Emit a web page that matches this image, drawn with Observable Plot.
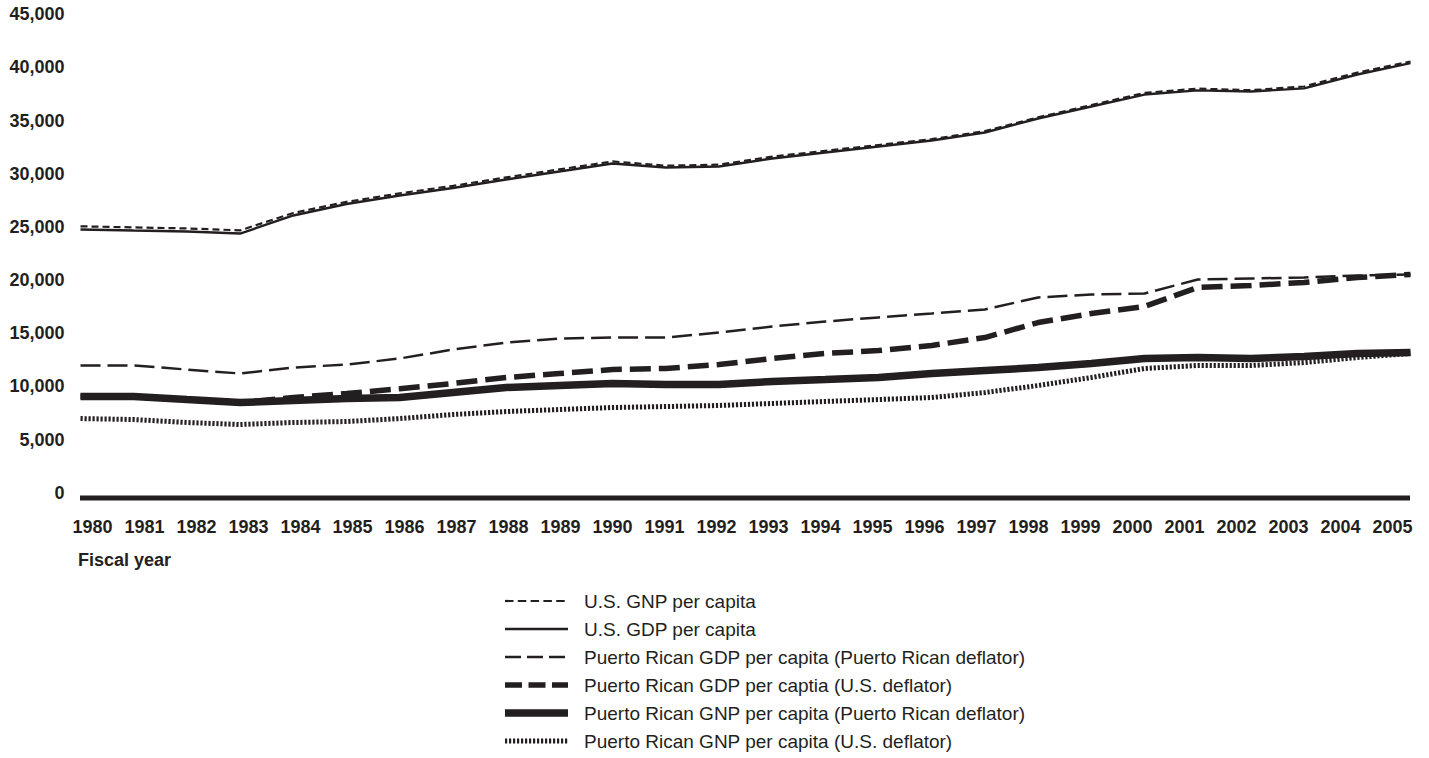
<!DOCTYPE html>
<html>
<head>
<meta charset="utf-8">
<script src="https://cdn.jsdelivr.net/npm/d3@7"></script>
<script src="https://cdn.jsdelivr.net/npm/@observablehq/plot@0.6"></script>
<style>
  html, body { margin: 0; padding: 0; background: #ffffff; }
  #wrap { position: relative; width: 1429px; height: 580px; }
  #wrap > svg { position: absolute; left: 0; top: 0; }
  svg { font-family: "Liberation Sans", Arial, Helvetica, sans-serif; }
</style>
</head>
<body>
<div id="wrap"></div>
<div id="legend"></div>
<script>
const years = [1980,1981,1982,1983,1984,1985,1986,1987,1988,1989,1990,1991,1992,1993,1994,1995,1996,1997,1998,1999,2000,2001,2002,2003,2004,2005];
const usGNP   = [25550,25450,25350,25170,26800,27850,28650,29350,30150,30900,31650,31250,31350,32100,32650,33200,33750,34500,35800,36950,38100,38500,38350,38700,40000,41050];
const usGDP   = [25250,25150,25060,24870,26570,27650,28450,29150,29950,30700,31460,31080,31180,31930,32490,33060,33620,34370,35690,36820,37940,38330,38230,38520,39830,40900];
const prGDPpr = [12460,12460,12080,11710,12270,12550,13120,13960,14620,15000,15090,15090,15560,16130,16600,16980,17350,17730,18860,19140,19230,20550,20640,20740,20920,21020];
const prGDPus = [9550,9550,9260,8980,9450,9830,10270,10770,11330,11710,12080,12180,12550,13120,13590,13870,14340,15090,16500,17350,18010,19800,19980,20270,20740,21020];
const prGNPpr = [9550,9550,9260,8980,9170,9360,9450,9920,10390,10580,10770,10670,10670,10960,11140,11330,11710,11990,12270,12650,13120,13210,13120,13310,13590,13680];
const prGNPus = [7470,7380,7100,6910,7100,7190,7470,7850,8130,8320,8510,8600,8700,8890,9080,9260,9450,9920,10580,11330,12180,12460,12460,12740,13210,13590];
const yTicks  = [0,5000,10000,15000,20000,25000,30000,35000,40000,45000];
const seriesNames = [
  "U.S. GNP per capita",
  "U.S. GDP per capita",
  "Puerto Rican GDP per capita (Puerto Rican deflator)",
  "Puerto Rican GDP per captia (U.S. deflator)",
  "Puerto Rican GNP per capita (Puerto Rican deflator)",
  "Puerto Rican GNP per capita (U.S. deflator)"
];
const xTitle = "Fiscal year";

const INK = "#231f20";
const seriesValues = [usGNP, usGDP, prGDPpr, prGDPus, prGNPpr, prGNPus];
const styles = [
  {w: 2.2, dash: "7,4",     ldash: "8.5,4.3"},
  {w: 2.4, dash: null,      ldash: null},
  {w: 2.5, dash: "20,7",    ldash: "16,6"},
  {w: 5.5, dash: "21,8",    ldash: "17,6.5"},
  {w: 7.5, dash: null,      ldash: null},
  {w: 5,   dash: "2.2,1.8", ldash: "2.2,1.8"}
];
const tables = seriesValues.map(vals => years.map((yr, i) => ({year: yr, value: vals[i]})));
const drawOrder = [5, 4, 3, 2, 1, 0];

const W = 1429, H = 580;
const mTop = 19, mBottom = 82.5;

const main = Plot.plot({
  width: W, height: H,
  marginLeft: 80, marginRight: 19, marginTop: mTop, marginBottom: mBottom,
  style: {fontFamily: "Liberation Sans, Arial, sans-serif", color: INK, background: "transparent"},
  x: {type: "linear", domain: [1980, 2005], axis: null},
  y: {domain: [0, 45000], axis: null},
  marks: [
    Plot.axisY({ticks: yTicks, tickSize: 0, tickPadding: 16, tickFormat: d3.format(","), fontSize: 18, fontWeight: "bold", dy: -5, label: null, fill: INK}),
    Plot.ruleY([0], {stroke: INK, strokeWidth: 5}),
    ...drawOrder.map(k => Plot.line(tables[k], {
      x: "year", y: "value", stroke: INK, strokeWidth: styles[k].w,
      strokeDasharray: styles[k].dash || undefined,
      strokeLinejoin: "miter", strokeLinecap: "butt"
    }))
  ]
});

const xaxis = Plot.plot({
  width: W, height: H,
  marginLeft: 91.7, marginRight: 36, marginTop: mTop, marginBottom: mBottom,
  style: {fontFamily: "Liberation Sans, Arial, sans-serif", color: INK, background: "transparent"},
  x: {type: "point", domain: years, padding: 0},
  y: {domain: [0, 45000], axis: null},
  marks: [
    Plot.axisX({tickSize: 0, tickPadding: 22.5, fontSize: 18, fontWeight: "bold", label: null, fill: INK, tickFormat: d => String(d)})
  ]
});
d3.select(xaxis).append("text")
  .attr("x", 78).attr("y", 566)
  .attr("text-anchor", "start")
  .attr("font-size", 18).attr("font-weight", "bold").attr("fill", INK)
  .text(xTitle);

const wrap = document.getElementById("wrap");
wrap.appendChild(main);
wrap.appendChild(xaxis);

const legendSvg = d3.select("#legend").append("svg")
  .attr("width", W).attr("height", 178)
  .style("display", "block");
seriesNames.forEach((name, i) => {
  const cy = 21 + i * 28;
  const s = styles[i];
  const ln = legendSvg.append("line")
    .attr("x1", 505).attr("x2", 568).attr("y1", cy).attr("y2", cy)
    .attr("stroke", INK).attr("stroke-width", s.w);
  if (s.ldash) ln.attr("stroke-dasharray", s.ldash);
  legendSvg.append("text")
    .attr("x", 584).attr("y", cy).attr("dy", "0.35em")
    .attr("font-size", 19).attr("fill", INK)
    .text(name);
});
</script>
</body>
</html>
